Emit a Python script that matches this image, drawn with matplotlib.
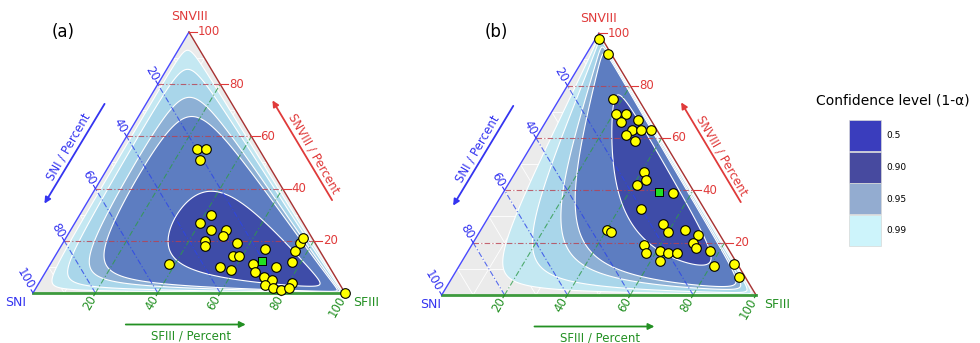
import numpy as np
import matplotlib.pyplot as plt
from matplotlib.patches import Polygon, Rectangle

# compositions in percent (SNI, SFIII, SNVIII)
# (corner points carry a small trace instead of an exact zero)
sni_a = [20, 17, 21, 28, 33, 31, 26, 28, 35, 36, 25, 51, 29, 27, 35, 32, 24, 25,
         17, 17, 11, 23, 21, 24, 22, 20, 15, 17, 8, 5, 3, 0.1]
sfiii_a = [25, 28, 28, 42, 40, 45, 50, 50, 45, 46, 56, 38, 57, 59, 55, 59, 65, 67,
           66, 73, 77, 71, 74, 73, 76, 79, 81, 81, 76, 76, 76, 99.8]
snviii_a = [55, 55, 51, 30, 27, 24, 24, 22, 20, 18, 19, 11, 14, 14, 10, 9, 11, 8,
            17, 10, 12, 6, 5, 3, 2, 1, 4, 2, 16, 19, 21, 0.1]

sni_b = [1, 1, 8, 10, 7, 10, 4, 8, 5, 2, 11, 9, 12, 13, 17, 7, 20, 35, 34, 16, 16,
         10, 7, 10, 10, 6, 26, 27, 22, 20, 17, 24, 8, 1, 2]
sfiii_b = [1, 7, 17, 21, 24, 24, 29, 29, 32, 35, 28, 32, 41, 43, 41, 54, 47, 40, 42,
           57, 60, 65, 70, 70, 72, 77, 55, 57, 61, 64, 67, 63, 81, 87, 91]
snviii_b = [98, 92, 75, 69, 69, 66, 67, 63, 63, 63, 61, 59, 47, 44, 42, 39, 33, 25,
            24, 27, 24, 25, 23, 20, 18, 17, 19, 16, 17, 16, 16, 13, 11, 12, 7]

conf_levels = [0.999, 0.99, 0.95, 0.90, 0.5]
band_colors = ['#c4e8f2', '#a9d6ea', '#8db0d5', '#5d7dc1', '#3e4ca8']

legend_labels = ['0.5', '0.90', '0.95', '0.99']
legend_colors = ['#3a3dbd', '#474a9f', '#93acd0', '#cdf4fb']

BLUE = '#3434f0'
GREEN = '#239023'
RED = '#e03a3a'
SQ3 = np.sqrt(3) / 2


def to_xy(a, b, c):
    a, b, c = np.asarray(a, float), np.asarray(b, float), np.asarray(c, float)
    t = a + b + c
    b, c = 100 * b / t, 100 * c / t
    return b + c / 2, c * SQ3


def ilr(comp):
    a, b, c = np.log(comp).T
    return np.column_stack([(a - b) / np.sqrt(2), (a + b - 2 * c) / np.sqrt(6)])


def ilr_inv(z):
    z1, z2 = z.T
    clr = np.column_stack([z1 / np.sqrt(2) + z2 / np.sqrt(6),
                           -z1 / np.sqrt(2) + z2 / np.sqrt(6),
                           -2 * z2 / np.sqrt(6)])
    e = np.exp(clr)
    return 100 * e / e.sum(1, keepdims=True)


def const_line(idx, v):
    p = np.zeros((2, 3))
    p[:, idx] = v
    others = [k for k in range(3) if k != idx]
    p[0, others[0]] = 100 - v
    p[1, others[1]] = 100 - v
    return to_xy(p[:, 0], p[:, 1], p[:, 2])


fig = plt.figure(figsize=(9.8, 3.43), dpi=100)

panels = [
    dict(a=sni_a, b=sfiii_a, c=snviii_a, L=(33, 293), W=312, H=261, tag='(a)', tagpx=(63, 32), sni_dx=-17),
    dict(a=sni_b, b=sfiii_b, c=snviii_b, L=(441.7, 295), W=314.3, H=261.7, tag='(b)', tagpx=(496, 32), sni_dx=-11),
]

for p in panels:
    Lx, Ly = p['L']
    W, H = p['W'], p['H']
    ax = fig.add_axes([0, 0, 1, 1])
    ax.set_xlim(-Lx / W * 100, (980 - Lx) / W * 100)
    ax.set_ylim(-(343 - Ly) / H * 100 * SQ3, Ly / H * 100 * SQ3)
    ax.axis('off')
    ax.patch.set_alpha(0)

    def rel(dx, dy):
        # pixel offset from the SNI corner -> data coords
        return dx / W * 100, -dy / H * 100 * SQ3

    tri = np.array([[0, 0], [100, 0], [50, 100 * SQ3]])
    ax.add_patch(Polygon(tri, closed=True, fc='#ebebeb', ec='none', zorder=0))
    for v in range(10, 100, 10):
        for idx in range(3):
            x, y = const_line(idx, v)
            ax.plot(x, y, color='white', lw=0.6, zorder=1)

    # confidence regions: normal model in ilr space
    comp = np.column_stack([p['a'], p['b'], p['c']]).astype(float)
    z = ilr(comp)
    mu = z.mean(0)
    chol = np.linalg.cholesky(np.cov(z.T))
    t = np.linspace(0, 2 * np.pi, 400)
    circ = np.column_stack([np.cos(t), np.sin(t)])
    for lev, col in zip(conf_levels, band_colors):
        r = np.sqrt(-2 * np.log(1 - lev))
        cc = ilr_inv(mu + r * circ @ chol.T)
        x, y = to_xy(cc[:, 0], cc[:, 1], cc[:, 2])
        ax.add_patch(Polygon(np.column_stack([x, y]), closed=True, fc=col,
                             ec='white', lw=0.8, zorder=2))

    # coloured major grid
    ls = (0, (5, 2, 1, 2))
    for v in range(20, 100, 20):
        x, y = const_line(2, v)
        ax.plot(x, y, color='#b8404f', lw=0.8, ls=ls, alpha=0.8, zorder=3)
        x, y = const_line(0, v)
        ax.plot(x, y, color='#2c45e8', lw=0.8, ls=ls, alpha=0.8, zorder=3)
        x, y = const_line(1, v)
        ax.plot(x, y, color='#2f9a4a', lw=0.8, ls=ls, alpha=0.8, zorder=3)

    # edges
    ax.plot([0, 50], [0, 100 * SQ3], color='#4a4aff', lw=1.0, zorder=4)
    ax.plot([50, 100], [100 * SQ3, 0], color='#a83232', lw=1.0, zorder=4)
    ax.plot([0, 100], [0, 0], color='#3d9a3d', lw=2.0, zorder=4)

    # tick labels
    for v in range(20, 101, 20):
        x0, y0 = to_xy(100 - v, v, 0)
        ax.plot([x0, x0 - 0.5], [y0, y0 - 0.87], color=GREEN, lw=0.8, zorder=4)
        ax.text(x0 - 0.7, y0 - 1.2, str(v), color=GREEN, fontsize=8.5, rotation=60,
                rotation_mode='anchor', ha='right', va='center')
        x0, y0 = to_xy(v, 0, 100 - v)
        ax.plot([x0, x0 - 0.6], [y0, y0 + 1.04], color=BLUE, lw=0.8, zorder=4)
        ax.text(x0 - 0.8, y0 + 1.4, str(v), color=BLUE, fontsize=8.5, rotation=-60,
                rotation_mode='anchor', ha='right', va='center')
        x0, y0 = to_xy(0, 100 - v, v)
        ax.plot([x0, x0 + 2.6], [y0, y0], color=RED, lw=0.8, zorder=4)
        ax.text(x0 + 2.9, y0, str(v), color=RED, fontsize=8.5, ha='left', va='center')

    # corner labels
    ax.text(*rel(p['sni_dx'], 10), 'SNI', color=BLUE, fontsize=9, ha='center', va='center')
    ax.text(*rel(W + 8, 9), 'SFIII', color=GREEN, fontsize=9, ha='left', va='center')
    ax.text(50, 100 * SQ3 + 15 / H * 100 * SQ3, 'SNVIII', color=RED, fontsize=9, ha='center', va='center')

    # axis titles and arrows
    ax.text(*rel(36, -146.5), 'SNI / Percent', color=BLUE, fontsize=8.5, rotation=60,
            ha='center', va='center', rotation_mode='anchor')
    ax.annotate('', xy=rel(10, -87), xytext=rel(73, -191.5),
                arrowprops=dict(arrowstyle='-|>', color=BLUE, lw=1.3, mutation_scale=9))
    ax.text(*rel(280.5, -139.5), 'SNVIII / Percent', color=RED, fontsize=8.5, rotation=-60,
            ha='center', va='center', rotation_mode='anchor')
    ax.annotate('', xy=rel(238, -195), xytext=rel(300.5, -90.5),
                arrowprops=dict(arrowstyle='-|>', color=RED, lw=1.3, mutation_scale=9))
    ax.text(*rel(158, 43), 'SFIII / Percent', color=GREEN, fontsize=8.5, ha='center', va='center')
    ax.annotate('', xy=rel(215.5, 31.5), xytext=rel(90, 31.5),
                arrowprops=dict(arrowstyle='-|>', color=GREEN, lw=1.3, mutation_scale=9))

    ax.text(*rel(p['tagpx'][0] - Lx, p['tagpx'][1] - Ly), p['tag'], fontsize=12,
            ha='center', va='center')

    # points and compositional centre
    x, y = to_xy(p['a'], p['b'], p['c'])
    ax.scatter(x, y, s=48, c='#ffff00', edgecolors='black', linewidths=0.8, zorder=6, clip_on=False)
    cen = ilr_inv(mu[None, :])[0]
    cx, cy = to_xy(*cen)
    ax.scatter([cx], [cy], s=38, marker='s', c='#22e022', edgecolors='black', linewidths=0.7, zorder=7)

# legend
lg = fig.add_axes([0, 0, 1, 1])
lg.set_xlim(0, 980)
lg.set_ylim(343, 0)
lg.axis('off')
lg.patch.set_alpha(0)
lg.text(893, 100, 'Confidence level (1-\u03b1)', fontsize=10, ha='center', va='center')
for i, (lab, col) in enumerate(zip(legend_labels, legend_colors)):
    y0 = 120 + i * 31.5
    lg.add_patch(Rectangle((849, y0), 32, 31, fc=col, ec='#d8d8d8', lw=0.5))
    lg.text(886, y0 + 16, lab, fontsize=6.5, ha='left', va='center')

fig.savefig('out.png', dpi=100)
